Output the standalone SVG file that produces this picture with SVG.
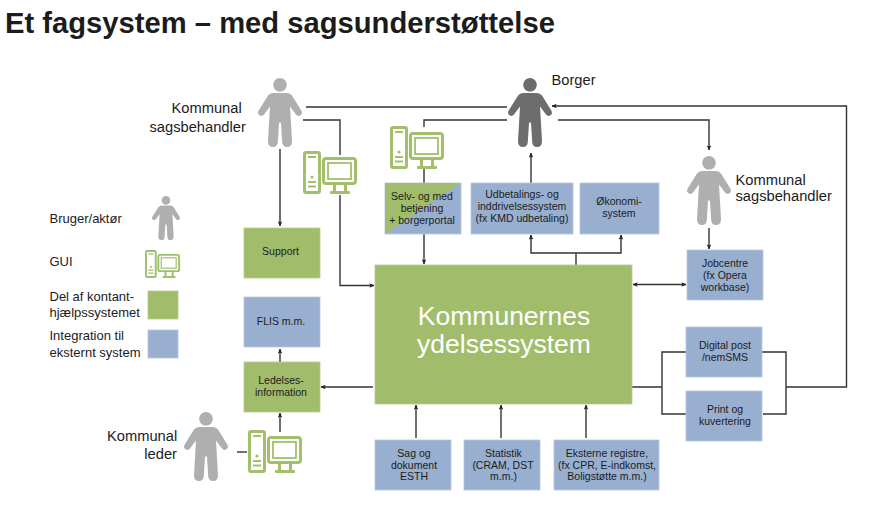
<svg xmlns="http://www.w3.org/2000/svg" width="875" height="507" viewBox="0 0 875 507">
<style>
text{font-family:"Liberation Sans",Arial,sans-serif;fill:#1c1c1c}
.t{font-size:10.5px;text-anchor:middle}
.l{font-size:14.700px}
.k{font-size:13px}
.g{fill:#a1bd6b;stroke:#b6cc8d;stroke-width:.8}
.b{fill:#98afcf;stroke:#b9c9e0;stroke-width:.8}
.c{fill:none;stroke:#333;stroke-width:1.4}
.a{marker-end:url(#arr)}
.p{fill:#afafaf}
.d{fill:#6d6d6d}
.ic{fill:#fff;stroke:#a2bf6c;stroke-width:3}
.il{fill:none;stroke:#a2bf6c;stroke-width:1.800}
.if{fill:#a2bf6c}
</style>
<defs>
<marker id="arr" viewBox="0 0 6 6" refX="5.5" refY="3" markerWidth="5" markerHeight="5" markerUnits="userSpaceOnUse" orient="auto-start-reverse"><path d="M0,0.3L6,3L0,5.7L1.2,3Z" fill="#222"/></marker>
<path id="person" d="M0,0a6.800,6.800 0 1 1 -.01,0ZM-7,15H7Q10,15 12,17.500L21.300,32.500Q23,35.500 20.500,37.300Q18,39 16,36.500L10,28.500L12,63Q12,69 7,69Q2.500,69 2.200,64L1,45Q0,43.500 -1,45L-2.200,64Q-2.500,69 -7,69Q-12,69 -12,63L-10,28.500L-16,36.500Q-18,39 -20.500,37.300Q-23,35.500 -21.300,32.500L-12,17.500Q-10,15 -7,15Z"/>
<g id="gui">
<rect class="ic" x="1.500" y="1.500" width="15" height="40" rx="1.500"/>
<path class="il" d="M5,6H13M5,31H13M5,35.500H13"/>
<circle class="if" cx="9" cy="26" r="1.600"/>
<rect class="ic" x="20.500" y="7.500" width="32" height="25" rx="2.500"/>
<rect class="il" x="25" y="12" width="23" height="16"/>
<rect class="if" x="30" y="33" width="3" height="7"/>
<rect class="if" x="41" y="33" width="3" height="7"/>
<rect class="if" x="27" y="40" width="20" height="3" rx="1"/>
</g>
</defs>
<rect width="875" height="507" fill="#fff"/>
<text id="title" x="5" y="33" style="font-size:29.200px;font-weight:700" fill="#111">Et fagsystem – med sagsunderstøttelse</text>

<g id="connectors">
<path class="c" d="M306,107H507"/>
<path class="c a" d="M786,387H846.500V106H552"/>
<path class="c a" d="M558,120H709V150"/>
<path class="c" d="M303,120H340V155"/>
<path class="c a" d="M340,195V285.500H374"/>
<path class="c" d="M507,120H424V127M424,169V183"/>
<path class="c a" d="M424,234V264"/>
<path class="c a" d="M531,184V153"/>
<path class="c" d="M576,265V253"/>
<path class="c a" d="M576,253H531V235"/>
<path class="c a" d="M576,253H621V235"/>
<path class="c a" style="marker-start:url(#arr)" d="M633,284.500H686"/>
<path class="c a" d="M280,149V226"/>
<path class="c a" d="M709,228V249"/>
<path class="c" d="M632,387H662M686,352H662V414H686M762,352H786V414H763"/>
<path class="c a" d="M373,387H321"/>
<path class="c a" d="M280,362V349"/>
<path class="c a" d="M280,432V413"/>
<path class="c" d="M237,452H247"/>
<path class="c a" d="M416,438V405"/>
<path class="c a" d="M501,438V405"/>
<path class="c a" d="M586,438V405"/>
</g>

<g id="actor-sagsbehandler-1"><use href="#person" class="p" transform="translate(280,78)"/><text class="l" x="171.500" y="113">Kommunal</text><text class="l" x="149.500" y="132">sagsbehandler</text></g>
<g id="actor-borger"><use href="#person" class="d" transform="translate(530,78)"/><text class="l" x="551.500" y="85">Borger</text></g>
<g id="actor-sagsbehandler-2"><use href="#person" class="p" transform="translate(709,156)"/><text class="l" x="735.500" y="185">Kommunal</text><text class="l" x="735.500" y="201">sagsbehandler</text></g>
<g id="actor-leder"><use href="#person" class="p" transform="translate(206,412)"/><text class="l" x="107" y="441">Kommunal</text><text class="l" x="177" y="459" text-anchor="end">leder</text></g>

<g id="gui-sagsbehandler"><use href="#gui" transform="translate(303,151)"/></g>
<g id="gui-borger"><use href="#gui" transform="translate(390,126)"/></g>
<g id="gui-leder"><use href="#gui" transform="translate(248,430)"/></g>

<g id="support"><rect class="g" x="244" y="228" width="76" height="50"/><text class="t" x="280.500" y="255">Support</text></g>
<g id="flis"><rect class="b" x="244" y="297" width="76" height="50"/><text class="t" x="281" y="325">FLIS m.m.</text></g>
<g id="ledelse"><rect class="g" x="244" y="362" width="76" height="50"/><text class="t" x="281" y="384">Ledelses-</text><text class="t" x="281" y="395.500">information</text></g>
<g id="selvbetjening"><rect class="b" x="385" y="183" width="76" height="51"/><path d="M385,183H460L385,234Z" fill="#a1bd6b"/><text class="t" x="422" y="200">Selv- og med</text><text class="t" x="422" y="212">betjening</text><text class="t" x="422" y="224">+ borgerportal</text></g>
<g id="udbetaling"><rect class="b" x="471" y="183" width="102" height="51"/><text class="t" x="522" y="198">Udbetalings- og</text><text class="t" x="522" y="210">inddrivelsessystem</text><text class="t" x="522" y="222">(fx KMD udbetaling)</text></g>
<g id="oekonomi"><rect class="b" x="580" y="183" width="79" height="51"/><text class="t" x="619" y="205">Økonomi-</text><text class="t" x="619" y="217">system</text></g>
<g id="main"><rect class="g" x="375" y="265" width="257" height="139"/><text x="504" y="325" text-anchor="middle" style="font-size:26.500px;fill:#fff">Kommunernes</text><text x="504" y="353" text-anchor="middle" style="font-size:26.500px;fill:#fff">ydelsessystem</text></g>
<g id="jobcentre"><rect class="b" x="687" y="250" width="76" height="50"/><text class="t" x="725" y="267">Jobcentre</text><text class="t" x="725" y="279">(fx Opera</text><text class="t" x="725" y="291">workbase)</text></g>
<g id="digitalpost"><rect class="b" x="686" y="327" width="76" height="50"/><text class="t" x="725" y="349">Digital post</text><text class="t" x="725" y="361">/nemSMS</text></g>
<g id="print"><rect class="b" x="686" y="391" width="76" height="50"/><text class="t" x="725" y="413">Print og</text><text class="t" x="725" y="424.500">kuvertering</text></g>
<g id="sag"><rect class="b" x="375" y="440" width="76" height="50"/><text class="t" x="414" y="457">Sag og</text><text class="t" x="414" y="468.500">dokument</text><text class="t" x="414" y="480">ESTH</text></g>
<g id="statistik"><rect class="b" x="464" y="440" width="76" height="50"/><text class="t" x="503.500" y="457">Statistik</text><text class="t" x="503" y="468.500">(CRAM, DST</text><text class="t" x="503.500" y="480">m.m.)</text></g>
<g id="registre"><rect class="b" x="554" y="440" width="105" height="50"/><text class="t" x="607" y="457">Eksterne registre,</text><text class="t" x="607" y="468.500">(fx CPR, E-indkomst,</text><text class="t" x="607" y="480">Boligstøtte m.m.)</text></g>

<g id="legend">
<text class="k" x="49.500" y="223">Bruger/aktør</text>
<use href="#person" class="p" transform="translate(166,196) scale(.64)"/>
<text class="k" x="49.500" y="266">GUI</text>
<use href="#gui" transform="translate(145,250) scale(.65)"/>
<text class="k" x="49.500" y="301">Del af kontant-</text>
<text class="k" x="49.500" y="317">hjælpssystemet</text>
<rect class="g" x="148" y="291" width="30" height="28"/>
<text class="k" x="49.500" y="340">Integration til</text>
<text class="k" x="49.500" y="357">eksternt system</text>
<rect class="b" x="148" y="330" width="30" height="28"/>
</g>
</svg>
